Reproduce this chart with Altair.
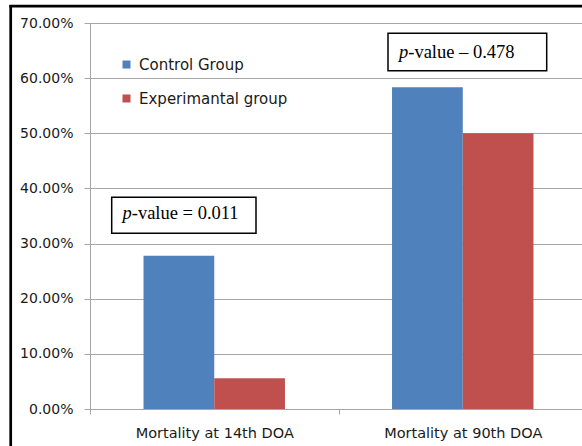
import altair as alt
import pandas as pd

categories = ["Mortality at 14th DOA", "Mortality at 90th DOA"]
groups = ["Control Group", "Experimantal group"]
control = [0.2778, 0.5833]
experimental = [0.0556, 0.50]
y_ticks = [0.0, 0.1, 0.2, 0.3, 0.4, 0.5, 0.6, 0.7]
annotations = ["-value = 0.011", "-value \u2013 0.478"]

rows = []
for c, a, b in zip(categories, control, experimental):
    rows.append({"category": c, "group": groups[0], "value": a})
    rows.append({"category": c, "group": groups[1], "value": b})
df = pd.DataFrame(rows)

GRID = "#a6a6a6"
SANS = "DejaVu Sans"
SERIF = "Liberation Serif"
TXT = "#1a1a1a"
AFS = 18.5

bars = alt.Chart(df).mark_bar().encode(
    x=alt.X("category:N", sort=categories,
            scale=alt.Scale(range=[0, 497], paddingInner=0, paddingOuter=0),
            axis=alt.Axis(title=None, labelAngle=0, tickBand="extent", grid=False,
                          domainColor=GRID, tickColor=GRID, tickSize=5,
                          labelFontSize=14.5, labelPadding=12, labelColor=TXT,
                          labelFont=SANS)),
    xOffset=alt.XOffset("group:N", sort=groups,
                        scale=alt.Scale(paddingInner=0, paddingOuter=0.757)),
    y=alt.Y("value:Q", scale=alt.Scale(domain=[0, 0.7], nice=False),
            axis=alt.Axis(title=None, values=y_ticks, format=".2%",
                          gridColor=GRID, domainColor=GRID, tickColor=GRID,
                          tickSize=6, labelFontSize=14, labelPadding=11,
                          labelColor=TXT, labelFont=SANS)),
    color=alt.Color("group:N", sort=groups,
                    scale=alt.Scale(domain=groups, range=["#4F81BD", "#C0504D"]),
                    legend=alt.Legend(title=None, orient="none", legendX=29, legendY=34,
                                      symbolType="square", symbolSize=64,
                                      symbolStrokeWidth=0, labelFontSize=15,
                                      labelFont=SANS, labelColor=TXT,
                                      rowPadding=18, labelOffset=5, padding=0)),
)

def box(x1, x2, y1, y2):
    return alt.Chart(pd.DataFrame({"k": [0]})).mark_rect(
        fill="white", stroke="black", strokeWidth=1.5
    ).encode(x=alt.value(x1), x2=alt.value(x2), y=alt.value(y1), y2=alt.value(y2))

def ptext(label, x, y):
    d = pd.DataFrame({"label": [label]})
    p = alt.Chart(d).mark_text(text="p", font=SERIF, fontStyle="italic", fontSize=AFS,
                               align="left", baseline="alphabetic", color="black").encode(
        x=alt.value(x), y=alt.value(y))
    t = alt.Chart(d).mark_text(font=SERIF, fontSize=AFS, align="left",
                               baseline="alphabetic", color="black").encode(
        x=alt.value(x + AFS * 0.5), y=alt.value(y), text="label:N")
    return p + t

frame_left = alt.Chart(pd.DataFrame({"k": [0]})).mark_rule(color="black", strokeWidth=2.7).encode(
    x=alt.value(-79.3), y=alt.value(-18), y2=alt.value(440))
frame_top = alt.Chart(pd.DataFrame({"k": [0]})).mark_rule(color="black", strokeWidth=2.7).encode(
    x=alt.value(-80.6), x2=alt.value(500), y=alt.value(-16.8))

chart = alt.layer(
    bars,
    box(21.7, 166, 174.3, 210.3),
    ptext(annotations[0], 32.5, 196.3),
    box(298, 456.7, 10.3, 47.7),
    ptext(annotations[1], 309, 35.3),
    frame_left,
    frame_top,
).properties(
    width=492, height=386,
    autosize=alt.AutoSizeParams(type="none"),
    padding={"left": 90, "top": 23, "right": 0, "bottom": 37},
).configure_view(stroke=None).configure(background="white")

chart.save("out.html", embed_options={"renderer": "svg", "actions": False})
